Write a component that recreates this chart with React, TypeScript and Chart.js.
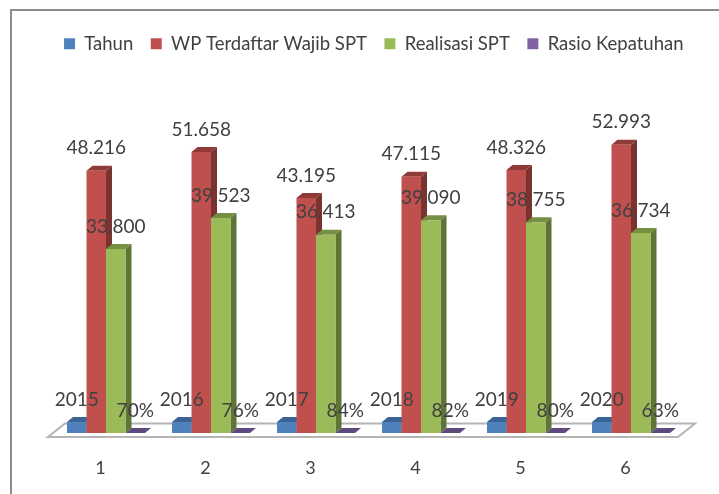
import React, { useEffect, useRef } from "react";
import { Chart, registerables } from "chart.js";

Chart.register(...registerables);

const categories = ["1", "2", "3", "4", "5", "6"];
const tahun = [2015, 2016, 2017, 2018, 2019, 2020];
const wpTerdaftar = [48216, 51658, 43195, 47115, 48326, 52993];
const realisasi = [33800, 39523, 36413, 39090, 38755, 36734];
const rasio = [0.7, 0.76, 0.84, 0.82, 0.8, 0.63];

const FONT = "Lato, 'Open Sans', sans-serif";
const TEXT = "#404040";
const DX = 6;
const DY = 5;
const LEGEND_GAP = 17.5;

const shades = [
  { top: "#3a6496", side: "#2f5380" },
  { top: "#913b39", side: "#7a3331" },
  { top: "#769043", side: "#5f7535" },
  { top: "#5f4a80", side: "#4d3b68" },
];

const thousands = (v: number) => String(v).replace(/\B(?=(\d{3})+$)/g, ".");
const formatters = [
  (v: number) => String(v),
  thousands,
  thousands,
  (v: number) => Math.round(v * 100) + "%",
];

const poly = (ctx: CanvasRenderingContext2D, pts: number[][], fill: string) => {
  ctx.beginPath();
  pts.forEach(([x, y], i) => (i ? ctx.lineTo(x, y) : ctx.moveTo(x, y)));
  ctx.closePath();
  ctx.fillStyle = fill;
  ctx.fill();
};

const scenePlugin = {
  id: "scene3d",
  afterLayout(chart: any) {
    // the legend's trailing padding would otherwise stop it short of the right end
    chart.legend.right += LEGEND_GAP;
  },
  beforeDraw(chart: any) {
    const { ctx, chartArea: a, width, height } = chart;
    ctx.save();
    ctx.fillStyle = "#ffffff";
    ctx.fillRect(0, 0, width, height);
    ctx.strokeStyle = "#8c8c8c";
    ctx.lineWidth = 2;
    ctx.beginPath();
    ctx.moveTo(11, height);
    ctx.lineTo(11, 10);
    ctx.lineTo(width, 10);
    ctx.stroke();
    ctx.beginPath();
    ctx.moveTo(a.left - 5.5, a.bottom + 4);
    ctx.lineTo(a.right - 5.5, a.bottom + 4);
    ctx.lineTo(a.right + 11.5, a.bottom - 9.5);
    ctx.lineTo(a.left + 11.5, a.bottom - 9.5);
    ctx.closePath();
    ctx.strokeStyle = "#b4b4b4";
    ctx.stroke();
    ctx.restore();
  },
  // Series are painted left to right below, so each one overlaps the 3D side of the previous one.
  beforeDatasetDraw() {
    return false;
  },
  afterDatasetsDraw(chart: any) {
    const { ctx } = chart;
    ctx.save();
    chart.data.datasets.forEach((_: any, i: number) => {
      const meta = chart.getDatasetMeta(i);
      meta.data.forEach((bar: any) => {
        const l = bar.x - bar.width / 2;
        const r = bar.x + bar.width / 2;
        const t = bar.y;
        const b = bar.base;
        poly(ctx, [[l, t], [r, t], [r + DX, t - DY], [l + DX, t - DY]], shades[i].top);
        poly(ctx, [[r, t], [r + DX, t - DY], [r + DX, b - DY], [r, b]], shades[i].side);
      });
      meta.controller.draw();
    });
    ctx.font = `19px ${FONT}`;
    ctx.fillStyle = TEXT;
    ctx.textAlign = "center";
    ctx.textBaseline = "middle";
    chart.data.datasets.forEach((ds: any, i: number) => {
      chart.getDatasetMeta(i).data.forEach((bar: any, j: number) => {
        ctx.fillText(formatters[i](ds.data[j]), bar.x, bar.y - 22.5);
      });
    });
    ctx.restore();
  },
};

export default function App() {
  const ref = useRef<HTMLCanvasElement>(null);
  useEffect(() => {
    const chart = new Chart(ref.current!, {
      type: "bar",
      data: {
        labels: categories,
        datasets: [
          { label: "Tahun", data: tahun, backgroundColor: "#4f81bd" },
          { label: "WP Terdaftar Wajib SPT", data: wpTerdaftar, backgroundColor: "#c0504d" },
          { label: "Realisasi SPT", data: realisasi, backgroundColor: "#9bbb59" },
          { label: "Rasio Kepatuhan", data: rasio, backgroundColor: "#8064a2" },
        ],
      },
      options: {
        responsive: false,
        animation: false,
        layout: { padding: { left: 10, right: 35.5, top: 17 } },
        datasets: { bar: { barPercentage: 1, categoryPercentage: 0.743 } },
        plugins: {
          tooltip: { enabled: false },
          legend: {
            position: "top",
            align: "end",
            labels: {
              boxWidth: 11,
              boxHeight: 11,
              padding: LEGEND_GAP,
              color: TEXT,
              font: { family: FONT, size: 18.5 },
            },
          },
        },
        scales: {
          x: {
            grid: { display: false },
            border: { display: false },
            afterFit: (s: any) => { s.height = 61; },
            ticks: {
              padding: 16,
              labelOffset: -5.5,
              color: TEXT,
              font: { family: FONT, size: 18 },
            },
          },
          y: {
            min: 0,
            max: 68000,
            grid: { display: false },
            border: { display: false },
            ticks: { display: false },
            afterFit: (s: any) => { s.width = 43.5; },
          },
        },
      },
      plugins: [scenePlugin],
    } as any);
    return () => chart.destroy();
  }, []);
  return (
    <canvas
      ref={ref}
      width={719}
      height={494}
      style={{ position: "absolute", left: 0, top: 0, width: 719, height: 494, filter: "blur(0.45px)" }}
    />
  );
}
